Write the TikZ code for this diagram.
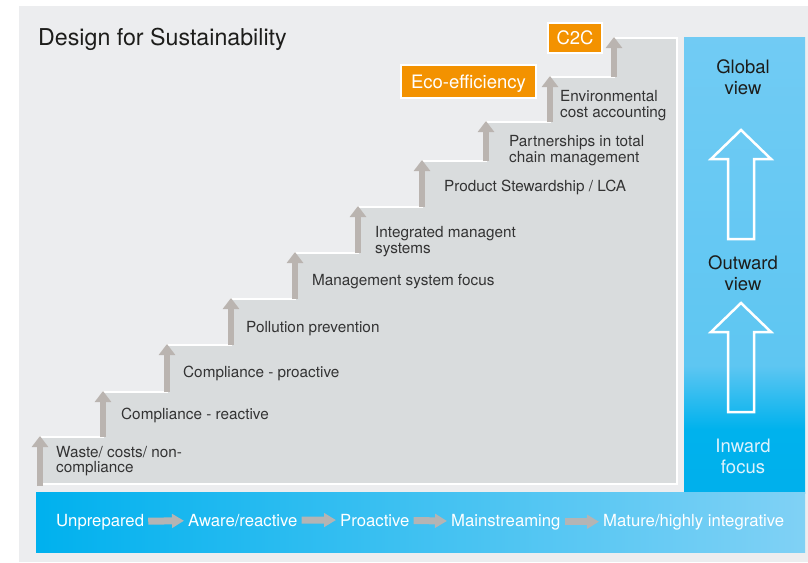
\documentclass[tikz,border=0pt]{standalone}
\usepackage{fontspec}
\setmainfont{TeX Gyre Heros}
\usetikzlibrary{arrows.meta}

\definecolor{panel}{HTML}{ECEDEF}
\definecolor{stairgrey}{HTML}{D9DCDD}
\definecolor{risergrey}{HTML}{BAB4B0}
\definecolor{ink}{HTML}{333333}
\definecolor{darkink}{HTML}{1D1D1B}
\definecolor{ecoorange}{HTML}{F39200}
\definecolor{cyandeep}{HTML}{00A7E7}
\definecolor{cyanmid}{HTML}{00B2ED}
\definecolor{skymid}{HTML}{5EC6F2}
\definecolor{skylight}{HTML}{7ECFF5}
\definecolor{barleft}{HTML}{00B1EE}
\definecolor{barright}{HTML}{80D1F5}
\definecolor{bargrey}{HTML}{B4B4B4}
\definecolor{paleink}{HTML}{DDF2FC}

\pgfdeclareverticalshading{columnfade}{100bp}{color(0bp)=(cyandeep); color(32bp)=(cyanmid); color(39bp)=(skymid); color(100bp)=(skylight)}

\tikzstyle{every node}=[inner sep=0pt]
\tikzstyle{steplabel}=[anchor=base west, align=left, text=ink, font=\fontsize{15.3}{15.4}\selectfont]
\tikzstyle{viewlabel}=[anchor=base, align=center, text=darkink, font=\fontsize{18.5}{20.7}\selectfont]
\tikzstyle{stage}=[anchor=base west, text=white, font=\fontsize{16.7}{18}\selectfont]
\tikzstyle{tag}=[fill=ecoorange, draw=white, line width=2.5pt, text=white, text height=13.3pt, text depth=0pt, font=\fontsize{18.5}{20}\selectfont]
\tikzstyle{riser}=[risergrey, line width=6.5pt, -{Triangle[width=16pt, length=11pt]}]
\tikzstyle{stagearrow}=[bargrey, line width=7pt, -{Triangle[width=13.5pt, length=12pt]}, shorten <=4pt, shorten >=4pt]
\tikzstyle{hollow}=[white, line width=2.5pt, line join=miter]

\begin{document}
\begin{tikzpicture}[x=1pt, y=-1pt]
% Canvas
    \useasboundingbox (0,0) rectangle (808,562);
    \fill[white] (0,0) rectangle (808,562);
    \fill[panel] (19,6) rectangle (808,562);
    \node[anchor=base west, text=darkink, font=\fontsize{23.2}{26}\selectfont] (title) at (38,45) {Design for Sustainability};
% Staircase
    \draw[white, line width=2.5pt, fill=stairgrey] (40,484) -- (40,437) -- (103,437) -- (103,392)
        -- (167,392) -- (167,345) -- (231,345) -- (231,299) -- (295,299) -- (295,253)
        -- (358,253) -- (358,207) -- (422,207) -- (422,161) -- (486,161) -- (486,122)
        -- (550,122) -- (550,77) -- (614,77) -- (614,38) -- (677,38) -- (677,484) -- cycle;
% Risers
    \draw[riser] (40,486) -- (40,436);
    \draw[riser] (103,437) -- (103,391);
    \draw[riser] (167,392) -- (167,344);
    \draw[riser] (231,345) -- (231,298);
    \draw[riser] (295,299) -- (295,252);
    \draw[riser] (358,253) -- (358,206);
    \draw[riser] (422,207) -- (422,160);
    \draw[riser] (486,161) -- (486,121);
    \draw[riser] (550,122) -- (550,76);
    \draw[riser] (614,77) -- (614,37);
% Step labels (base = last line)
    \node[steplabel] (waste) at (56,472.5) {Waste/ costs/ non-\\compliance};
    \node[steplabel] (reactive) at (121,419) {Compliance - reactive};
    \node[steplabel] (proactive) at (183,377) {Compliance - proactive};
    \node[steplabel] (pollution) at (246,332) {Pollution prevention};
    \node[steplabel] (mgmtfocus) at (312,285) {Management system focus};
    \node[steplabel] (integrated) at (375,253) {Integrated managent\\systems};
    \node[steplabel] (lca) at (444,191) {Product Stewardship / LCA};
    \node[steplabel] (chain) at (509,162) {Partnerships in total\\chain management};
    \node[steplabel] (costacc) at (560,117) {Environmental\\cost accounting};
% Orange tags
    \node[tag, minimum width=135pt, minimum height=33pt] (eco) at (468.5,81.5) {Eco-efficiency};
    \node[tag, minimum width=54pt, minimum height=30pt] (ctoc) at (575,38) {C2C};
% Scope column
    \shade[shading=columnfade] (684,37) rectangle (805,493);
    \node[viewlabel] (global) at (743,94.5) {Global\\view};
    \node[viewlabel] (outward) at (743,290) {Outward\\view};
    \node[viewlabel, text=paleink] (inward) at (743,473) {Inward\\focus};
    \draw[hollow] (741,130) -- (771,159) -- (754,159) -- (754,239) -- (728,239) -- (728,159) -- (711,159) -- cycle;
    \draw[hollow] (741,303) -- (771,332) -- (754,332) -- (754,412) -- (728,412) -- (728,332) -- (711,332) -- cycle;
% Maturity bar
    \shade[left color=barleft, right color=barright] (36,492) rectangle (805,552);
    \node[stage] (unprepared) at (56,526) {Unprepared};
    \node[stage] (aware) at (188,526) {Aware/reactive};
    \node[stage] (proact) at (340,526) {Proactive};
    \node[stage] (mainstream) at (451,526) {Mainstreaming};
    \node[stage] (mature) at (603,526) {Mature/highly integrative};
    \draw[stagearrow] (unprepared) -- (aware);
    \draw[stagearrow] (aware) -- (proact);
    \draw[stagearrow] (proact) -- (mainstream);
    \draw[stagearrow] (mainstream) -- (mature);
\end{tikzpicture}
\end{document}
